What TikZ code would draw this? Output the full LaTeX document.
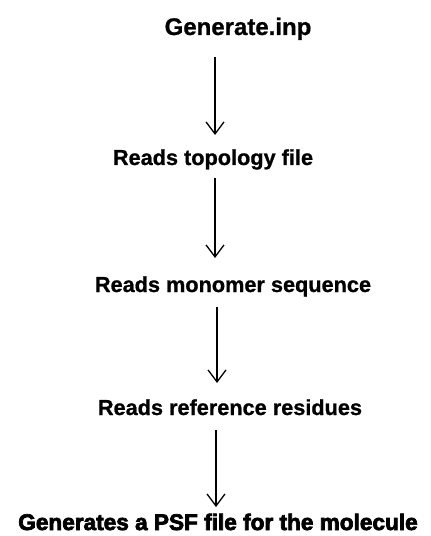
\documentclass[tikz,border=0pt]{standalone}
\usepackage{fontspec}
\newfontfamily\lblfont{Liberation Sans Bold}[FakeBold=0.9]
\newfontfamily\heavyfont{Liberation Sans Bold}[FakeBold=3.2]
\usetikzlibrary{arrows.meta}
\begin{document}
\begin{tikzpicture}[x=1bp,y=-1bp,
  lbl/.style={anchor=base,inner sep=0pt,font=\fontsize{21.7bp}{24bp}\lblfont},
  flow/.style={line width=1.3bp,-{Straight Barb[length=12bp,width=18bp,line width=1.3bp]}}]
\useasboundingbox (0,0) rectangle (430,536);
\node[lbl,font=\fontsize{24bp}{26bp}\lblfont] (gen) at (238,35) {Generate.inp};
\node[lbl] (top) at (213,165) {Reads topology file};
\node[lbl] (mon) at (233,292) {Reads monomer sequence};
\node[lbl] (ref) at (230,415) {Reads reference residues};
\node[lbl,font=\fontsize{22.6bp}{25bp}\heavyfont] (psf) at (218,530) {Generates a PSF file for the molecule};
\coordinate (a1s) at (215,57);  \coordinate (a1e) at (215,135);
\coordinate (a2s) at (215,178); \coordinate (a2e) at (215,258);
\coordinate (a3s) at (217,307); \coordinate (a3e) at (217,383);
\coordinate (a4s) at (216,430); \coordinate (a4e) at (216,507);
\draw[flow] (a1s) -- (a1e);
\draw[flow] (a2s) -- (a2e);
\draw[flow] (a3s) -- (a3e);
\draw[flow] (a4s) -- (a4e);
\end{tikzpicture}
\end{document}
